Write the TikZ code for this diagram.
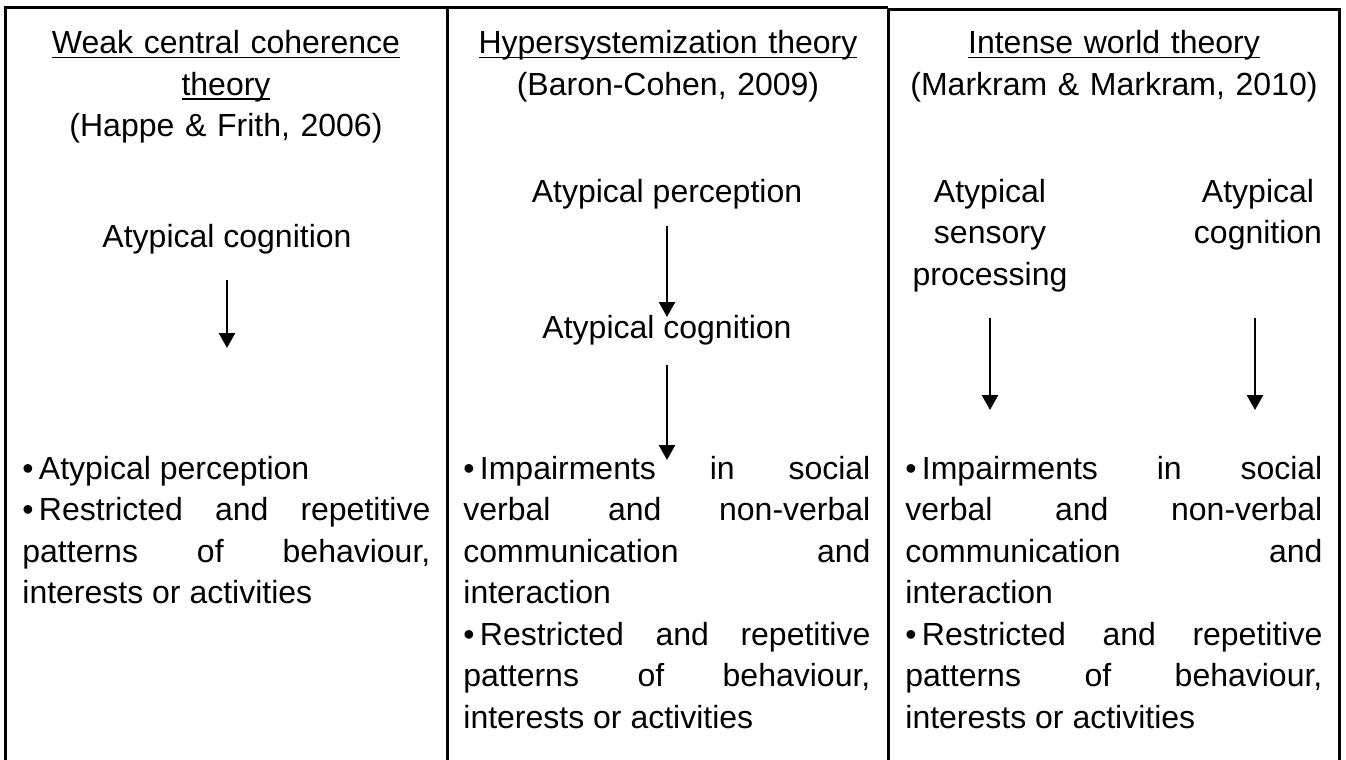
\documentclass[tikz,border=0pt]{standalone}
\usepackage{fontspec}
\setmainfont{Liberation Sans}
\usetikzlibrary{arrows.meta,positioning,calc}

% underlined heading line, Word style
\newcommand{\hdr}[1]{\leavevmode\setbox0\hbox{#1}\rlap{\rule[-2.2pt]{\wd0}{0.8pt}}\box0}
% stretched (justified) line
\newcommand{\jline}[2][204pt]{\makebox[#1][s]{#2}}

\begin{document}
\begin{tikzpicture}[x=0.5pt,y=-0.5pt,
	txt/.style={inner sep=0pt,anchor=base,font=\fontsize{16}{20.75}\selectfont},
	head/.style={txt,text width=230pt,align=center},
	para/.style={txt,anchor=base west,text width=#1,align=flush left},
	para/.default=204pt,
	frame/.style={line width=1.5pt},
	flow/.style={line width=1.25pt,-{Triangle[width=8pt,length=7.5pt]}}]
	\useasboundingbox (0,0) rectangle (1346,760);
	
	% frame
	\draw[frame] (5,760) -- (5,7.5) -- (888,7.5);
	\draw[frame] (447,7.5) -- (447,760);
	\draw[frame] (888,7.5) -- (888,760);
	\draw[frame] (888,9) -- (1339,9) -- (1339,760);
	
	% Column 1: weak central coherence
	\node[head] (hdrA) at (226,54) {\hdr{Weak central coherence}\\ \hdr{theory}\\ (Happe \& Frith, 2006)};
	\node[txt] (cogA) at (227,247) {Atypical cognition};
	\node[para] (listA) at (22,479) {•\,Atypical perception\\
		\jline{•\,Restricted and repetitive}\\
		\jline{patterns of behaviour,}\\
		interests or activities};
	\draw[flow,shorten <=16.5pt,shorten >=65.5pt] (cogA.base) -- (cogA.base |- listA.base);
	
	% Column 2: hypersystemizing
	\node[head] (hdrB) at (668,54) {\hdr{Hypersystemization theory}\\ (Baron-Cohen, 2009)};
	\node[txt] (percB) at (667,202) {Atypical perception};
	\node[txt] (cogB) at (667,338) {Atypical cognition};
	\node[para=203.5pt] (listB) at (463,479) {\jline[203.5pt]{•\,Impairments in social}\\
		\jline[203.5pt]{verbal and non-verbal}\\
		\jline[203.5pt]{communication and}\\
		interaction\\
		\jline[203.5pt]{•\,Restricted and repetitive}\\
		\jline[203.5pt]{patterns of behaviour,}\\
		interests or activities};
	\draw[flow,shorten <=12pt,shorten >=10.5pt] (percB.base) -- (cogB.base);
	\draw[flow,shorten <=13.5pt,shorten >=9.5pt] (cogB.base) -- (cogB.base |- listB.base);
	
	% Column 3: intense world
	\node[head] (hdrC) at (1114,54) {\hdr{Intense world theory}\\ (Markram \& Markram, 2010)};
	\node[txt,text width=100pt,align=center] (sensC) at (990,202) {Atypical\\ sensory\\ processing};
	\node[txt,text width=80pt,align=center] (cogC) at (1258,202) {Atypical\\ cognition};
	\node[para=208.5pt] (listC) at (905,479) {\jline[208.5pt]{•\,Impairments in social}\\
		\jline[208.5pt]{verbal and non-verbal}\\
		\jline[208.5pt]{communication and}\\
		interaction\\
		\jline[208.5pt]{•\,Restricted and repetitive}\\
		\jline[208.5pt]{patterns of behaviour,}\\
		interests or activities};
	\draw[flow,shorten <=58pt,shorten >=34.5pt] (sensC.base) -- (sensC.base |- listC.base);
	\draw[flow,shorten <=58pt,shorten >=34.5pt] ([xshift=-1.5pt]cogC.base) -- ([xshift=-1.5pt]cogC.base |- listC.base);
\end{tikzpicture}
\end{document}
